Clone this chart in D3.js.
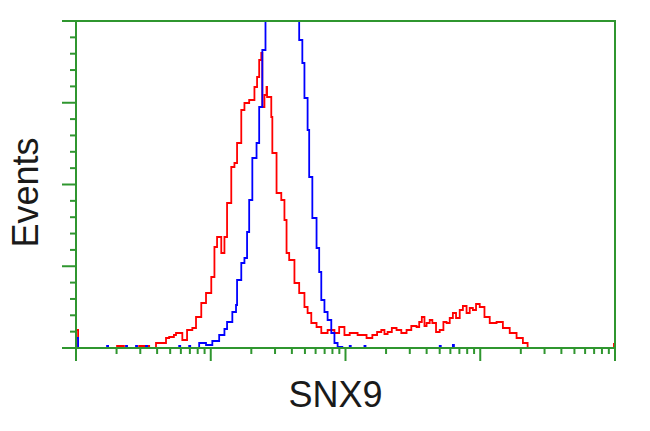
<!DOCTYPE html>
<html><head><meta charset="utf-8">
<script src="https://cdn.jsdelivr.net/npm/d3@7"></script>
<style>html,body{margin:0;padding:0;background:#fff;}svg{display:block;}</style>
</head><body>
<svg id="chart" width="650" height="431"></svg>
<script>
// Histogram channels (0-1024 over 4 log decades) and event counts
const redChannels = [0,4,63,78,91,120,139,152,158,171,177,186,190,202,211,215,221,228,238,247,257,263,268,276,282,287,295,301,306,314,320,329,339,344,348,352,354,358,362,363,371,373,381,390,396,400,405,415,424,434,440,447,457,466,478,491,500,510,520,535,552,563,572,580,586,592,600,609,618,628,637,647,652,657,662,666,672,677,684,691,698,704,710,716,722,729,735,742,748,754,760,767,776,786,799,811,824,837,849,858,1018,1022];
const redCounts   = [9,0,0,1,0,1,0,2.5,2.5,5,5.5,6.5,7.5,4,9,9,10,15.5,22.5,27.5,35.5,50.5,55.5,47.5,55.5,72.5,90.5,92.5,102.5,119,122.5,124,130.5,135.5,144,147.5,120.5,126.5,130.5,125.5,115.5,97.5,77.5,74,64,47.5,44,32.5,27.5,20.5,17.5,12.5,10.5,7.5,9,7.5,10.5,6.5,7.5,6.5,5,6.5,8,9,7,8,10,9,7.5,9,11,10.5,13,15.5,11,12.5,14,12.5,8,9,13,12.5,15,17.5,15,19,21,17.5,20,19,22,20.5,15.5,12.5,13,10,7.5,5,2.5,0,0,2.5];

const blueChannels = [0,4,57,59,61,93,95,97,112,114,116,131,133,135,194,196,198,213,215,217,234,247,259,272,282,287,297,304,306,314,320,325,329,335,343,348,352,354,360,367,377,390,405,415,421,424,430,434,440,443,449,457,462,466,472,478,485,491,497,506,518,520,522,546,548,550,689,691,693,714,716,718,1022];
const blueCounts   = [5,0,0,1,0,0,1,0,0,1,0,0,1,0,0,1,0,0,1,0,2.5,1.5,3.5,6.5,9.5,13,18,21.5,34,42.5,45,58,74,95,102.5,120.5,120.5,149,164,180,195,205,200,180,164,154,142.5,125,109,85.5,65,50,38,24,18,14,7.5,2.5,0.5,0,0,1,0,0,1,0,0,1,0,0,1.5,0,0];

const xDecades = [1, 10, 100, 1000, 10000];
const yMax = 163.5;
const yMajorDivisions = 4;
const yMinorPerMajor = 5;
const xLabel = "SNX9";
const yLabel = "Events";

const green = "#2f962f";
const svg = d3.select("#chart");
const L = 76, R = 615, T = 21, B = 348;

const x = d3.scaleLinear().domain([0, 1024]).range([L, R]);
const xLog = d3.scaleLog().domain([xDecades[0], xDecades[xDecades.length-1]]).range([L, R]);
const y = d3.scaleLinear().domain([0, yMax]).range([B, T]);

svg.append("defs").append("clipPath").attr("id","clip")
  .append("rect").attr("x", L).attr("y", T).attr("width", R-L).attr("height", B-T);

const line = d3.line().x(d => x(d[0])).y(d => y(d[1])).curve(d3.curveStepAfter);
const red = redChannels.map((c,i) => [c, redCounts[i]]);
const blue = blueChannels.map((c,i) => [c, blueCounts[i]]);

const g = svg.append("g").attr("clip-path","url(#clip)");
g.append("path").datum(red).attr("d", line).attr("fill","none").attr("stroke","#ff0000").attr("stroke-width",1.8);
g.append("path").datum(blue).attr("d", line).attr("fill","none").attr("stroke","#0000ff").attr("stroke-width",1.8);

// Frame
svg.append("rect").attr("x", L).attr("y", T).attr("width", R-L).attr("height", B-T)
  .attr("fill","none").attr("stroke", green).attr("stroke-width", 2);

// Y ticks
const yTickVals = d3.range(0, yMajorDivisions*yMinorPerMajor + 1).map(i => i * yMax / (yMajorDivisions*yMinorPerMajor));
svg.append("g").selectAll("line").data(yTickVals).join("line")
  .attr("x1", (d,i) => i % yMinorPerMajor === 0 ? L - 14 : L - 6)
  .attr("x2", L)
  .attr("y1", d => y(d)).attr("y2", d => y(d))
  .attr("stroke", green).attr("stroke-width", 2);

// X ticks (log decades)
const xMinor = [];
xDecades.slice(0,-1).forEach(dec => { for (let k = 2; k <= 9; k++) xMinor.push(dec*k); });
svg.append("g").selectAll("line").data(xMinor).join("line")
  .attr("x1", d => xLog(d)).attr("x2", d => xLog(d))
  .attr("y1", B).attr("y2", B + 6)
  .attr("stroke", green).attr("stroke-width", 2);
svg.append("g").selectAll("line").data(xDecades).join("line")
  .attr("x1", d => xLog(d)).attr("x2", d => xLog(d))
  .attr("y1", B).attr("y2", B + 13)
  .attr("stroke", green).attr("stroke-width", 2);

// Labels
svg.append("text").attr("x", (L+R)/2 - 10).attr("y", 407)
  .attr("text-anchor","middle").attr("font-family","Liberation Sans, Arial, sans-serif")
  .attr("font-size", 36).attr("fill","#1a1a1a").text(xLabel);
svg.append("text").attr("transform", `translate(38,${(T+B)/2 + 8}) rotate(-90)`)
  .attr("text-anchor","middle").attr("font-family","Liberation Sans, Arial, sans-serif")
  .attr("font-size", 36).attr("fill","#1a1a1a").text(yLabel);
</script>
</body></html>
